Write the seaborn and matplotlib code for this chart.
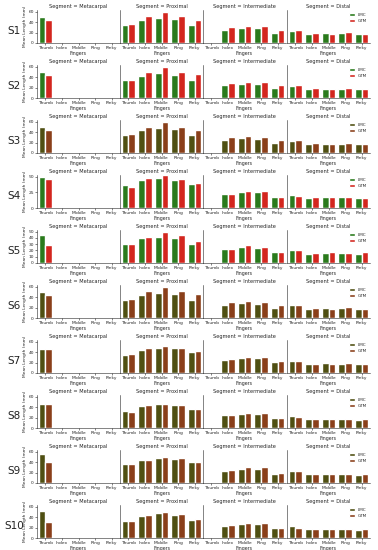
import numpy as np
import pandas as pd
import matplotlib
matplotlib.use("Agg")
import matplotlib.pyplot as plt
import seaborn as sns

subjects = ["S1", "S2", "S3", "S4", "S5", "S6", "S7", "S8", "S9", "S10"]
segments = ["Metacarpal", "Proximal", "Intermediate", "Distal"]
fingers = ["Thumb", "Index", "Middle", "Ring", "Pinky"]
methods = ["LMC", "GTM"]
N = np.nan

# values per subject: [segment][finger]
lmc = [
    [[50, N, N, N, N], [35, 43, 48, 45, 35], [N, 24, 28, 28, 19], [23, 17, 19, 19, 17]],
    [[49, N, N, N, N], [34, 42, 48, 44, 35], [N, 24, 27, 27, 20], [23, 17, 18, 18, 17]],
    [[50, N, N, N, N], [34, 43, 48, 45, 35], [N, 24, 28, 27, 20], [23, 18, 18, 18, 17]],
    [[50, N, N, N, N], [36, 44, 48, 45, 38], [N, 23, 25, 25, 18], [21, 16, 17, 17, 16]],
    [[44, N, N, N, N], [30, 39, 42, 40, 31], [N, 22, 25, 24, 17], [21, 15, 16, 16, 15]],
    [[50, N, N, N, N], [35, 44, 48, 45, 35], [N, 25, 28, 27, 19], [24, 18, 19, 19, 18]],
    [[45, N, N, N, N], [35, 44, 48, 47, 40], [N, 25, 28, 28, 21], [23, 18, 19, 18, 17]],
    [[45, N, N, N, N], [33, 42, 45, 43, 36], [N, 24, 27, 27, 19], [22, 17, 18, 18, 16]],
    [[55, N, N, N, N], [36, 44, 48, 46, 40], [N, 22, 27, 26, 18], [23, 17, 18, 18, 16]],
    [[52, N, N, N, N], [33, 42, 47, 44, 35], [N, 23, 27, 26, 19], [22, 17, 18, 17, 16]],
]
gtm = [
    [[44, N, N, N, N], [37, 52, 60, 52, 44], [N, 30, 33, 32, 25], [25, 19, 17, 21, 17]],
    [[43, N, N, N, N], [35, 50, 60, 50, 45], [N, 29, 31, 30, 24], [24, 19, 17, 20, 17]],
    [[44, N, N, N, N], [36, 50, 60, 50, 43], [N, 30, 32, 31, 24], [25, 19, 17, 20, 17]],
    [[46, N, N, N, N], [33, 48, 52, 46, 40], [N, 22, 27, 27, 18], [19, 18, 18, 18, 16]],
    [[28, N, N, N, N], [29.5, 41, 49, 45, 35], [N, 23, 28, 25, 18], [20, 16, 18, 16, 18]],
    [[44, N, N, N, N], [36, 51, 60, 51, 45], [N, 30, 32, 31, 24], [25, 19, 18, 21, 18]],
    [[45, N, N, N, N], [37, 48, 52, 48, 42], [N, 26, 31, 30, 22], [22, 18, 18, 19, 17]],
    [[45, N, N, N, N], [30, 44, 46, 44, 36], [N, 25, 28, 28, 20], [21, 18, 18, 18, 17]],
    [[40, N, N, N, N], [36, 44, 49, 47, 40], [N, 25, 30, 30, 20], [22, 18, 17, 18, 17]],
    [[30, N, N, N, N], [32, 43, 50, 45, 36], [N, 25, 29, 28, 20], [20, 18, 18, 18, 17]],
]
yticks_rows = [
    [0, 20, 40, 60], [0, 20, 40, 60], [0, 20, 40, 60], [0, 25, 50],
    [0, 10, 20, 30, 40, 50], [0, 20, 40, 60], [0, 20, 40, 60],
    [0, 20, 40, 60], [0, 20, 40, 60], [0, 20, 40, 60],
]

# styles
green_red = ["#2a7a1c", "#d3261e"]
olive_brown = ["#4f4f12", "#8a3f1a"]
row_palettes = [green_red, green_red, olive_brown, green_red, green_red,
                olive_brown, olive_brown, olive_brown, olive_brown, olive_brown]

sns.set_theme(style="ticks")
plt.rcParams["font.family"] = ["DejaVu Sans"]

W, H = 378, 550
fig = plt.figure(figsize=(W / 100, H / 100), dpi=100)
col_left = [37, 120, 203, 287]
col_w = 83
ax_h = 33

for r, subj in enumerate(subjects):
    rows = []
    for si, seg in enumerate(segments):
        for fi, fg in enumerate(fingers):
            rows.append((seg, fg, "LMC", lmc[r][si][fi]))
            rows.append((seg, fg, "GTM", gtm[r][si][fi]))
    df = pd.DataFrame(rows, columns=["Segment", "Fingers", "Method", "Mean Length (mm)"])
    bottom = 43 + r * 55
    top_lim = yticks_rows[r][-1] * 1.05
    for c, seg in enumerate(segments):
        ax = fig.add_axes([col_left[c] / W, (H - bottom) / H, col_w / W, ax_h / H])
        sub = df[df["Segment"] == seg]
        sns.barplot(data=sub, x="Fingers", y="Mean Length (mm)", hue="Method",
                    order=fingers, hue_order=methods, palette=row_palettes[r],
                    ax=ax, errorbar=None, saturation=1, legend=(c == 3))
        ax.set_ylim(0, top_lim)
        ax.set_yticks(yticks_rows[r])
        ax.set_title(f"Segment = {seg}", fontsize=3.6, pad=1.5)
        ax.tick_params(axis="both", labelsize=3.2, length=1.2, width=0.4, pad=1)
        ax.set_xlabel("Fingers", fontsize=3.4, labelpad=0.5)
        for s in ["left", "bottom"]:
            ax.spines[s].set_linewidth(0.4)
        sns.despine(ax=ax)
        if c == 0:
            ax.set_ylabel("Mean Length (mm)", fontsize=3.2, labelpad=1)
        else:
            ax.set_ylabel("")
            ax.tick_params(axis="y", left=False, labelleft=False)
        if c == 3:
            leg = ax.legend(loc="upper right", fontsize=3, frameon=False,
                            handlelength=1.4, handleheight=0.8, borderpad=0.2,
                            labelspacing=0.4, bbox_to_anchor=(1.0, 1.0))
    fig.text(14 / W, (H - (bottom - 12)) / H, subj, fontsize=7.5,
             ha="center", va="center", color="#222222")

fig.savefig("out.png", dpi=100)
